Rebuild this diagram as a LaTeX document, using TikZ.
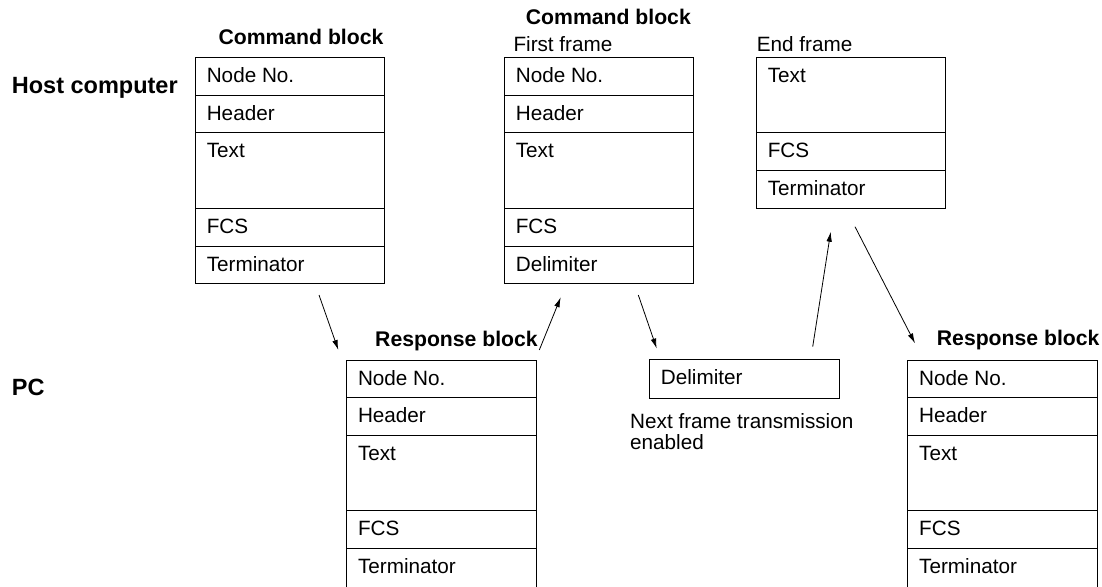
\documentclass[tikz,border=0pt]{standalone}
\usepackage{fontspec}
\setmainfont{Liberation Sans}
\usetikzlibrary{arrows.meta}
\tikzset{
  fld/.style={draw=black, line width=1pt, minimum width=189.5pt, minimum height=#1, anchor=north west, inner sep=0pt, outer sep=0pt},
  fld/.default=37.75pt,
  openfld/.style={minimum width=189.5pt, minimum height=#1, anchor=north west, inner sep=0pt, outer sep=0pt},
  txt/.style={anchor=base west, inner sep=0pt, font=\fontsize{20.7}{21.7}\selectfont},
  ttl/.style={anchor=base west, inner sep=0pt, font=\fontsize{21.2}{22}\selectfont\bfseries},
  side/.style={anchor=base west, inner sep=0pt, font=\fontsize{23.5}{24}\selectfont\bfseries},
  arr/.style={-{Latex[length=10pt,width=5.5pt]}, line width=0.8pt},
}
\newcommand\mkrow[5]{%
  \node[fld=#4] (#1) at (#2,#3) {};
  \node[txt] (#1-t) at ([xshift=11.3pt,yshift=-25pt]#1.north west) {#5};
}
\newcommand\mkopenrow[5]{%
  \node[openfld=#4] (#1) at (#2,#3) {};
  \draw[line width=1pt] (#1.south west) -- (#1.north west) -- (#1.north east) -- (#1.south east);
  \node[txt] (#1-t) at ([xshift=11.3pt,yshift=-25pt]#1.north west) {#5};
}
\begin{document}
\begin{tikzpicture}[x=1pt,y=-1pt]
\useasboundingbox (0,0) rectangle (1102,586);

% side labels
\node[side] (host) at (11.7,93.3) {Host computer};
\node[side] (pc) at (11.7,395) {PC};

% Command block (left)
\node[ttl] (cb1title) at (218.3,45) {Command block};
\mkrow{c1a}{195.3}{57.3}{37.75pt}{Node No.}
\mkrow{c1b}{195.3}{95.05}{37.75pt}{Header}
\mkrow{c1c}{195.3}{132.8}{75.5pt}{Text}
\mkrow{c1d}{195.3}{208.3}{37.75pt}{FCS}
\mkrow{c1e}{195.3}{246.05}{37.75pt}{Terminator}

% Command block (first frame)
\node[ttl] (cb2title) at (525.7,25) {Command block};
\node[txt] (ffl) at (513.3,51.7) {First frame};
\mkrow{c2a}{504.3}{57.3}{37.75pt}{Node No.}
\mkrow{c2b}{504.3}{95.05}{37.75pt}{Header}
\mkrow{c2c}{504.3}{132.8}{75.5pt}{Text}
\mkrow{c2d}{504.3}{208.3}{37.75pt}{FCS}
\mkrow{c2e}{504.3}{246.05}{37.75pt}{Delimiter}

% End frame
\node[txt] (efl) at (756.7,51.7) {End frame};
\mkrow{c3a}{756.3}{57.3}{75.5pt}{Text}
\mkrow{c3b}{756.3}{132.8}{37.75pt}{FCS}
\mkrow{c3c}{756.3}{170.55}{37.75pt}{Terminator}

% Response block 1
\node[ttl] (rb1title) at (375,346.7) {Response block};
\mkrow{r1a}{346.5}{360}{37.7pt}{Node No.}
\mkrow{r1b}{346.5}{397.7}{37.7pt}{Header}
\mkrow{r1c}{346.5}{435.4}{75.4pt}{Text}
\mkrow{r1d}{346.5}{510.8}{37.9pt}{FCS}
\mkopenrow{r1e}{346.5}{548.7}{40pt}{Terminator}

% Delimiter box
\node[draw=black, line width=1pt, minimum width=189.7pt, minimum height=38.4pt, anchor=north west, inner sep=0pt] (dlm) at (649.3,359.3) {};
\node[txt] (dlm-t) at ([xshift=11.4pt,yshift=-25pt]dlm.north west) {Delimiter};
\node[txt] (nf1) at (630,428) {Next frame transmission};
\node[txt] (nf2) at (630,449.7) {enabled};

% Response block 2
\node[ttl] (rb2title) at (936.7,345) {Response block};
\mkrow{r2a}{907.7}{360}{37.7pt}{Node No.}
\mkrow{r2b}{907.7}{397.7}{37.7pt}{Header}
\mkrow{r2c}{907.7}{435.4}{75.4pt}{Text}
\mkrow{r2d}{907.7}{510.8}{37.9pt}{FCS}
\mkopenrow{r2e}{907.7}{548.7}{40pt}{Terminator}

% arrows
\coordinate (a1s) at (319,295);
\coordinate (a1e) at (338.3,350);
\coordinate (a2s) at (539.3,350);
\coordinate (a2e) at (560.7,297.3);
\coordinate (a3s) at (638.3,295);
\coordinate (a3e) at (656.7,348.5);
\coordinate (a4s) at (812.7,346.7);
\coordinate (a4e) at (830.7,231.7);
\coordinate (a5s) at (855,226.7);
\coordinate (a5e) at (915,343.3);
\draw[arr] (a1s) -- (a1e);
\draw[arr] (a2s) -- (a2e);
\draw[arr] (a3s) -- (a3e);
\draw[arr] (a4s) -- (a4e);
\draw[arr] (a5s) -- (a5e);
\end{tikzpicture}
\end{document}
